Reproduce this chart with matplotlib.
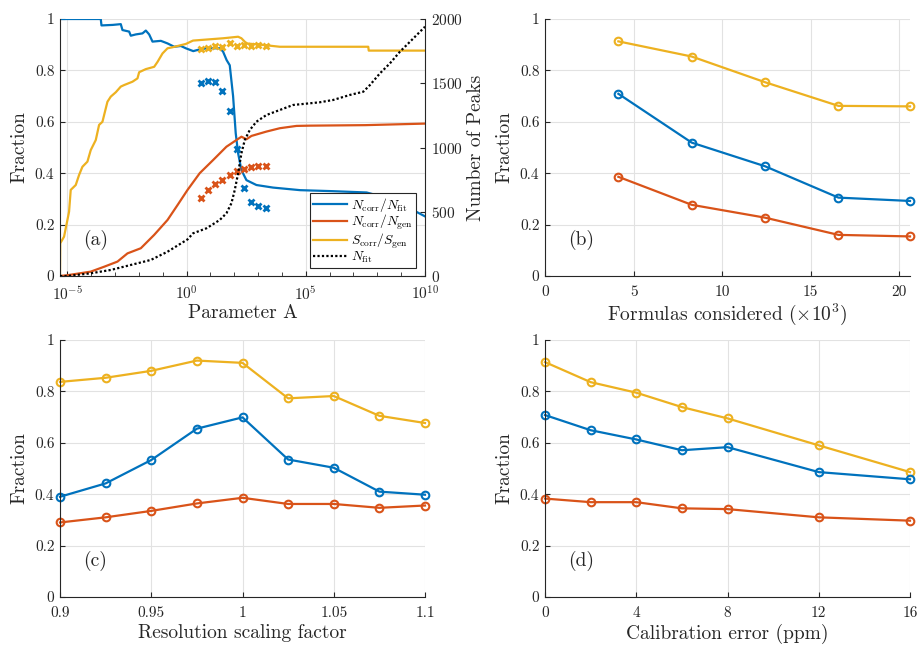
import numpy as np
import matplotlib
matplotlib.use("Agg")
import matplotlib.pyplot as plt
from matplotlib.ticker import FixedLocator, FuncFormatter, NullFormatter

plt.rcParams['font.family'] = 'serif'
plt.rcParams['font.serif'] = ['cmr10']
plt.rcParams['mathtext.fontset'] = 'cm'
plt.rcParams['axes.formatter.use_mathtext'] = True

BLUE = '#0072BD'
RED = '#D95319'
YEL = '#EDB120'
AXC = '#262626'

# ---------------- Panel (a) data (Parameter A given as log10 exponent) ----------------
blue_logA = [-5.31, -3.60, -3.57, -3.10, -2.76, -2.69, -2.41, -2.34, -2.13, -1.85, -1.71,
             -1.57, -1.43, -1.08, -0.80, -0.52, -0.24, -0.03, 0.28, 0.56, 0.84, 1.40, 1.53,
             1.68, 1.81, 1.95, 2.06, 2.16, 2.30, 2.51, 2.93, 3.63, 4.76, 6.15, 7.55, 8.95,
             9.51, 10.0]
blue_frac = [1.0, 1.0, 0.975, 0.977, 0.980, 0.957, 0.951, 0.935, 0.940, 0.944, 0.955,
             0.940, 0.912, 0.915, 0.905, 0.892, 0.895, 0.886, 0.875, 0.882, 0.886, 0.886, 0.873,
             0.840, 0.820, 0.700, 0.556, 0.478, 0.412, 0.373, 0.354, 0.344, 0.334, 0.330, 0.325,
             0.290, 0.256, 0.232]

yel_logA = [-5.31, -5.30, -5.14, -4.93, -4.86, -4.65, -4.51, -4.37, -4.16, -4.02, -3.81,
            -3.67, -3.53, -3.32, -3.18, -2.97, -2.76, -2.62, -2.27, -2.06, -1.99, -1.71,
            -1.36, -1.22, -1.01, -0.80, -0.59, -0.03, 0.27, 0.97, 1.53, 2.16, 2.30, 2.51,
            3.21, 3.91, 7.62, 7.64, 10.0]
yel_frac = [0.0, 0.127, 0.153, 0.250, 0.335, 0.354, 0.393, 0.425, 0.445, 0.490, 0.529,
            0.588, 0.600, 0.678, 0.698, 0.715, 0.737, 0.743, 0.756, 0.769, 0.793, 0.805,
            0.814, 0.833, 0.866, 0.886, 0.890, 0.903, 0.916, 0.921, 0.925, 0.931, 0.925,
            0.905, 0.899, 0.892, 0.892, 0.877, 0.877]

red_logA = [-5.31, -5.0, -4.02, -3.46, -2.90, -2.48, -1.92, -1.36, -0.80, -0.38, 0.04,
            0.55, 1.11, 1.67, 2.30, 2.51, 2.72, 3.35, 3.91, 4.61, 5.17, 7.5, 10.0]
red_frac = [0.0, 0.003, 0.017, 0.036, 0.056, 0.088, 0.108, 0.160, 0.218, 0.276, 0.335,
            0.400, 0.451, 0.503, 0.542, 0.532, 0.545, 0.562, 0.575, 0.584, 0.585, 0.587, 0.593]

nfit_logA = [-5.31, -5.0, -4.02, -3.18, -2.34, -1.50, -0.80, 0.04, 0.27, 0.83, 1.39, 1.67,
             1.88, 2.02, 2.16, 2.30, 2.44, 2.65, 2.93, 3.35, 3.91, 4.47, 5.17, 5.59, 6.15,
             6.85, 7.41, 7.69, 8.11, 8.53, 8.95, 9.37, 9.93, 10.0]
nfit_count = [0, 0, 21, 47, 86, 125, 189, 285, 332, 371, 436, 488, 566, 669, 799, 955, 1058,
              1136, 1201, 1253, 1292, 1331, 1344, 1352, 1370, 1409, 1434, 1486, 1577, 1655,
              1746, 1823, 1927, 1940]

sweep_A = [4, 8, 16, 32, 64, 128, 256, 512, 1024, 2048]
sweep_blue = [0.752, 0.758, 0.755, 0.721, 0.642, 0.494, 0.341, 0.287, 0.274, 0.263]
sweep_red = [0.302, 0.335, 0.357, 0.372, 0.392, 0.408, 0.417, 0.424, 0.428, 0.427]
sweep_yel = [0.883, 0.886, 0.895, 0.890, 0.908, 0.895, 0.900, 0.896, 0.900, 0.893]

# ---------------- Panel (b) ----------------
formulas = [4.14, 8.28, 12.42, 16.56, 20.6]
b_yel = [0.913, 0.854, 0.754, 0.662, 0.660]
b_blue = [0.709, 0.519, 0.427, 0.305, 0.292]
b_red = [0.386, 0.277, 0.227, 0.160, 0.154]

# ---------------- Panel (c) ----------------
resol = [0.9, 0.925, 0.95, 0.975, 1.0, 1.025, 1.05, 1.075, 1.1]
c_yel = [0.837, 0.853, 0.880, 0.920, 0.911, 0.773, 0.782, 0.705, 0.677]
c_blue = [0.390, 0.442, 0.533, 0.655, 0.699, 0.535, 0.503, 0.410, 0.398]
c_red = [0.290, 0.310, 0.335, 0.364, 0.386, 0.362, 0.362, 0.347, 0.356]

# ---------------- Panel (d) ----------------
calib = [0, 2, 4, 6, 8, 12, 16]
d_yel = [0.914, 0.836, 0.795, 0.739, 0.695, 0.590, 0.486]
d_blue = [0.708, 0.649, 0.613, 0.571, 0.583, 0.486, 0.458]
d_red = [0.383, 0.369, 0.369, 0.345, 0.342, 0.310, 0.297]

legend_labels = [r'$N_\mathrm{corr}/N_\mathrm{fit}$', r'$N_\mathrm{corr}/N_\mathrm{gen}$',
                 r'$S_\mathrm{corr}/S_\mathrm{gen}$', r'$N_\mathrm{fit}$']

W, H = 919, 645
fig = plt.figure(figsize=(W / 100, H / 100), dpi=100)


def rect(l, r, t, b):
    return [l / W, 1 - b / H, (r - l) / W, (b - t) / H]


TICK_FS = 11
LAB_FS = 14
fmt_g = FuncFormatter(lambda v, p: '%g' % v)


def style(ax):
    for s in ['top', 'right']:
        ax.spines[s].set_visible(False)
    for s in ['left', 'bottom']:
        ax.spines[s].set_color(AXC)
        ax.spines[s].set_linewidth(0.8)
    ax.tick_params(direction='in', length=3.5, width=0.8, colors=AXC,
                   labelsize=TICK_FS, labelcolor=AXC, pad=4)
    ax.tick_params(axis='x', pad=6.5)
    ax.tick_params(which='minor', direction='in', length=2, width=0.6, colors=AXC)
    ax.grid(True, color='#e2e2e2', lw=0.8)
    ax.set_axisbelow(True)
    ax.set_ylim(0, 1)
    ax.yaxis.set_major_locator(FixedLocator([0, 0.2, 0.4, 0.6, 0.8, 1]))
    ax.yaxis.set_major_formatter(fmt_g)
    ax.set_ylabel('Fraction', fontsize=LAB_FS, color=AXC, labelpad=5)


def panel_label(ax, s):
    ax.text(0.063, 0.14, s, transform=ax.transAxes, fontsize=14, ha='left', va='center',
            color=AXC)


line_kw = dict(lw=1.6)
mk_kw = dict(lw=1.6, marker='o', markersize=5.5, mfc='none', mew=1.5, clip_on=False)

# ---- (a)
ax = fig.add_axes(rect(60, 425, 19, 276))
style(ax)
la1, = ax.plot(10 ** np.array(blue_logA), blue_frac, color=BLUE, **line_kw)
la2, = ax.plot(10 ** np.array(red_logA), red_frac, color=RED, **line_kw)
la3, = ax.plot(10 ** np.array(yel_logA), yel_frac, color=YEL, **line_kw)
xkw = dict(ls='none', marker='x', markersize=4.5, mew=2)
ax.plot(sweep_A, sweep_blue, color=BLUE, **xkw)
ax.plot(sweep_A, sweep_red, color=RED, **xkw)
ax.plot(sweep_A, sweep_yel, color=YEL, **xkw)
ax.set_xscale('log')
ax.set_xlim(10 ** -5.31, 1e10)
ax.xaxis.set_major_locator(FixedLocator([1e-5, 1e0, 1e5, 1e10]))
ax.xaxis.set_minor_locator(FixedLocator([10.0 ** k for k in range(-5, 11)]))
ax.xaxis.set_minor_formatter(NullFormatter())
ax.xaxis.set_major_formatter(FuncFormatter(lambda v, p: r'$10^{%d}$' % round(np.log10(v))))
ax.tick_params(axis='x', which='minor', length=3)
ax.set_xlabel('Parameter A', fontsize=LAB_FS, color=AXC, labelpad=1)
panel_label(ax, '(a)')

ax2 = ax.twinx()
ax2.spines['top'].set_visible(False)
ax2.spines['left'].set_visible(False)
ax2.spines['bottom'].set_visible(False)
ax2.spines['right'].set_color(AXC)
ax2.spines['right'].set_linewidth(0.8)
la4, = ax2.plot(10 ** np.array(nfit_logA), nfit_count, color='black', lw=1.6, ls=(0, (1, 1)))
ax2.set_ylim(0, 2000)
ax2.yaxis.set_major_locator(FixedLocator([0, 500, 1000, 1500, 2000]))
ax2.tick_params(direction='in', length=3.5, width=0.8, colors=AXC, labelsize=TICK_FS,
                labelcolor=AXC, pad=4)
ax2.set_ylabel('Number of Peaks', fontsize=LAB_FS, color=AXC, labelpad=3)
leg = ax2.legend([la1, la2, la3, la4], legend_labels, loc='lower right',
                 bbox_to_anchor=(0.975, 0.031), borderaxespad=0, fontsize=9.8,
                 fancybox=False, framealpha=1, edgecolor=AXC, handlelength=2.5,
                 handletextpad=0.3, labelspacing=-0.05, borderpad=0.2)
leg.get_frame().set_linewidth(0.8)

# ---- (b)
ax = fig.add_axes(rect(545, 910, 19, 276))
style(ax)
ax.plot(formulas, b_yel, color=YEL, **mk_kw)
ax.plot(formulas, b_blue, color=BLUE, **mk_kw)
ax.plot(formulas, b_red, color=RED, **mk_kw)
ax.set_xlim(0, 20.6)
ax.xaxis.set_major_locator(FixedLocator([0, 5, 10, 15, 20]))
ax.xaxis.set_major_formatter(fmt_g)
ax.set_xlabel(r'Formulas considered ($\times10^3$)', fontsize=LAB_FS, color=AXC, labelpad=2)
panel_label(ax, '(b)')

# ---- (c)
ax = fig.add_axes(rect(60, 425, 340, 597))
style(ax)
ax.plot(resol, c_yel, color=YEL, **mk_kw)
ax.plot(resol, c_blue, color=BLUE, **mk_kw)
ax.plot(resol, c_red, color=RED, **mk_kw)
ax.set_xlim(0.9, 1.1)
ax.xaxis.set_major_locator(FixedLocator([0.9, 0.95, 1.0, 1.05, 1.1]))
ax.xaxis.set_major_formatter(fmt_g)
ax.set_xlabel('Resolution scaling factor', fontsize=LAB_FS, color=AXC, labelpad=3)
panel_label(ax, '(c)')

# ---- (d)
ax = fig.add_axes(rect(545, 910, 340, 597))
style(ax)
ax.plot(calib, d_yel, color=YEL, **mk_kw)
ax.plot(calib, d_blue, color=BLUE, **mk_kw)
ax.plot(calib, d_red, color=RED, **mk_kw)
ax.set_xlim(0, 16)
ax.xaxis.set_major_locator(FixedLocator([0, 4, 8, 12, 16]))
ax.xaxis.set_major_formatter(fmt_g)
ax.set_xlabel('Calibration error (ppm)', fontsize=LAB_FS, color=AXC, labelpad=3)
panel_label(ax, '(d)')

fig.savefig('out.png', dpi=100)
